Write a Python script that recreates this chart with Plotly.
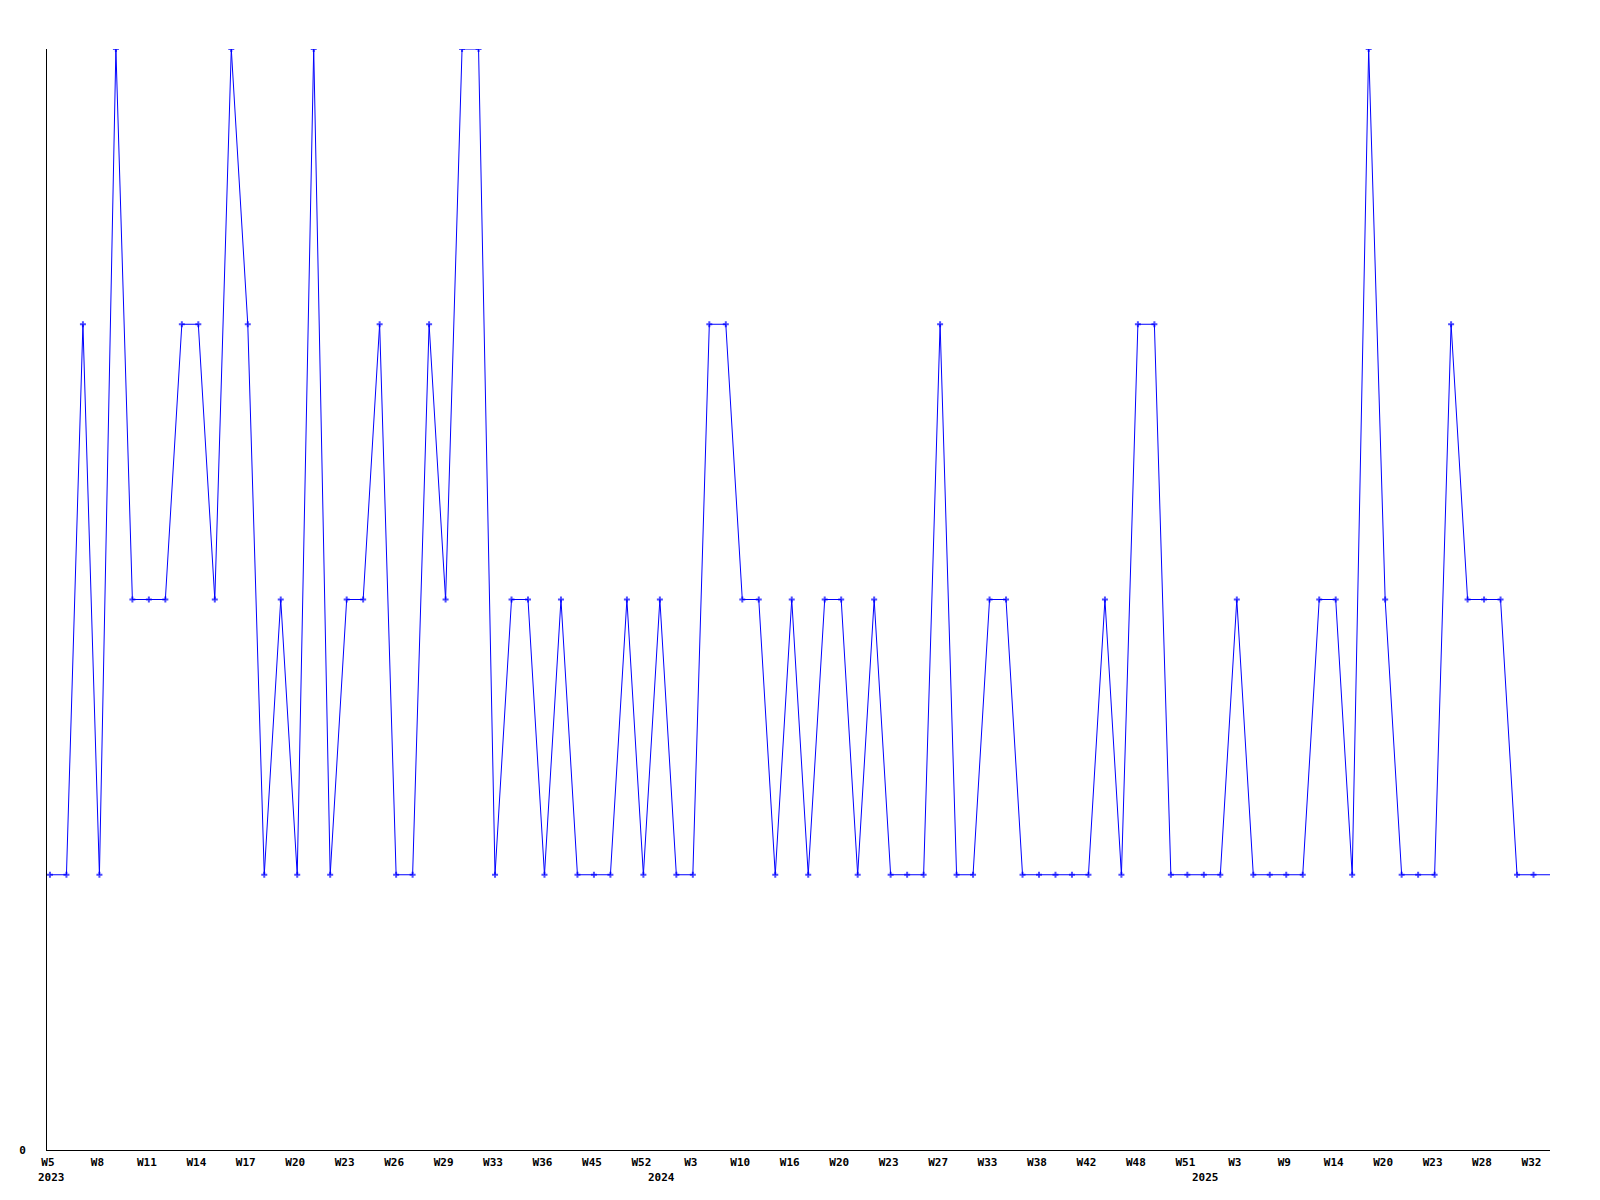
import plotly.graph_objects as go

# Weekly categories (year-week), values
categories = [
    "2023-W05", "2023-W06", "2023-W07", "2023-W08", "2023-W09", "2023-W10", "2023-W11", "2023-W12",
    "2023-W13", "2023-W14", "2023-W15", "2023-W16", "2023-W17", "2023-W18", "2023-W19", "2023-W20",
    "2023-W21", "2023-W22", "2023-W23", "2023-W24", "2023-W25", "2023-W26", "2023-W27", "2023-W28",
    "2023-W29", "2023-W31", "2023-W32", "2023-W33", "2023-W34", "2023-W35", "2023-W36", "2023-W38",
    "2023-W41", "2023-W45", "2023-W47", "2023-W50", "2023-W52", "2024-W01", "2024-W02", "2024-W03",
    "2024-W05", "2024-W08", "2024-W10", "2024-W12", "2024-W14", "2024-W16", "2024-W17", "2024-W19",
    "2024-W20", "2024-W21", "2024-W22", "2024-W23", "2024-W24", "2024-W26", "2024-W27", "2024-W29",
    "2024-W31", "2024-W33", "2024-W35", "2024-W37", "2024-W38", "2024-W39", "2024-W41", "2024-W42",
    "2024-W44", "2024-W46", "2024-W48", "2024-W49", "2024-W50", "2024-W51", "2025-W01", "2025-W02",
    "2025-W03", "2025-W05", "2025-W07", "2025-W09", "2025-W11", "2025-W12", "2025-W14", "2025-W16",
    "2025-W18", "2025-W20", "2025-W21", "2025-W22", "2025-W23", "2025-W25", "2025-W26", "2025-W28",
    "2025-W29", "2025-W31", "2025-W32", "2025-W33",
]
values = [
    1, 1, 3, 1, 4, 2, 2, 2, 3, 3, 2, 4, 3, 1, 2, 1, 4, 1, 2, 2, 3, 1, 1, 3,
    2, 4, 4, 1, 2, 2, 1, 2, 1, 1, 1, 2, 1, 2, 1, 1, 3, 3, 2, 2, 1, 2, 1, 2,
    2, 1, 2, 1, 1, 1, 3, 1, 1, 2, 2, 1, 1, 1, 1, 1, 2, 1, 3, 3, 1, 1, 1, 1,
    2, 1, 1, 1, 1, 2, 2, 1, 4, 2, 1, 1, 1, 3, 2, 2, 2, 1, 1, 1,
]
tick_labels = ["W5", "W8", "W11", "W14", "W17", "W20", "W23", "W26", "W29", "W33", "W36",
               "W45", "W52", "W3", "W10", "W16", "W20", "W23", "W27", "W33", "W38", "W42",
               "W48", "W51", "W3", "W9", "W14", "W20", "W23", "W28", "W32"]
tick_categories = categories[0:91:3]
year_labels = ["2023", "2024", "2025"]
year_categories = ["2023-W05", "2024-W01", "2025-W01"]

font_family = "DejaVu Sans Mono"
marker_sizes = [5] * (len(values) - 1) + [0]

fig = go.Figure()
fig.add_trace(go.Scatter(
    x=categories, y=values, mode="lines+markers",
    line=dict(color="#0000ff", width=1),
    marker=dict(symbol="cross", size=marker_sizes, color="#0000ff", line=dict(width=0)),
    showlegend=False, hoverinfo="x+y",
))

for lab, cat in zip(year_labels, year_categories):
    fig.add_annotation(
        x=cat, xref="x", y=0, yref="paper", yanchor="top", yshift=-19,
        xanchor="center", xshift=2, text="<b>" + lab + "</b>", showarrow=False,
        font=dict(family=font_family, size=11, color="black"),
    )

fig.update_layout(
    width=1584, height=1184,
    paper_bgcolor="white", plot_bgcolor="white",
    margin=dict(l=39, r=42, t=41, b=42),
    font=dict(family=font_family, size=11, color="black"),
    xaxis=dict(
        type="category", categoryorder="array", categoryarray=categories,
        range=[-0.18, len(categories) - 1],
        tickmode="array", tickvals=tick_categories,
        ticktext=["<b>" + t + "</b>" for t in tick_labels],
        showgrid=False, zeroline=False, showline=True, linecolor="black", linewidth=1,
        ticks="", ticklabelshift=-2, ticklabelstandoff=2,
        tickfont=dict(family=font_family, size=11, color="black"),
    ),
    yaxis=dict(
        range=[0, 4], tickmode="array", tickvals=[0], ticktext=["<b>0</b>"],
        showgrid=False, zeroline=False, showline=True, linecolor="black", linewidth=1,
        ticks="", ticklabelstandoff=18,
        tickfont=dict(family=font_family, size=11, color="black"),
    ),
)

fig.write_html("out.html")
